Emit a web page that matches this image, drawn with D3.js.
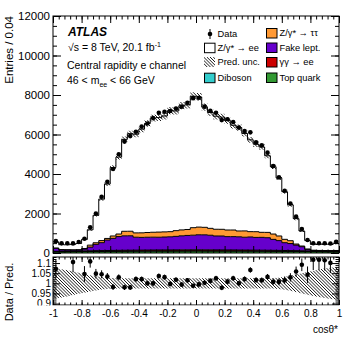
<!DOCTYPE html>
<meta charset="utf-8">
<style>
body { margin: 0; background: #fff; overflow: hidden; }
svg { display: block; font-family: "Liberation Sans", Arial, sans-serif; }
.axis path { display: none; }
.axis line { stroke: #000; stroke-width: 1px; }
.axis text { fill: #000; font-family: "Liberation Sans", Arial, sans-serif; }
.leg text { font-size: 9.3px; }
</style>
<svg width="357" height="344"></svg>
<script src="https://cdn.jsdelivr.net/npm/d3@7"></script>
<script>

// 50 bins of cos(theta*), width 0.04
var dataCounts = [600,490,490,485,555,725,1300,2000,2850,3610,4250,5000,5640,5920,6140,6400,6560,6830,7100,7150,
                  7190,7320,7410,7610,7840,7860,7410,7200,7100,6730,6770,6630,6350,6180,6110,5600,5450,5080,4400,3830,
                  3150,2510,1840,1215,660,490,490,490,480,570];
var zee = [310,250,255,280,320,465,775,1390,2100,2755,3465,3895,4655,4940,4995,5250,5520,5780,5795,5870,
           6130,6060,6290,6310,6655,6590,6090,5865,5725,5680,5550,5305,5235,4935,4650,4430,4320,3880,3405,2940,
           2410,1815,1285,760,435,300,310,315,315,360];
var ztautau = [12,10,10,10,10,30,100,80,105,80,120,130,230,230,220,230,240,250,260,260,
               260,290,300,300,380,390,380,350,340,340,335,335,295,320,270,290,255,270,270,235,
               170,145,55,35,10,10,10,10,10,10];
var fakes = [150,70,60,50,50,90,185,320,400,530,610,695,730,730,655,645,650,650,645,655,
             665,685,710,730,740,760,760,740,705,705,675,675,670,650,665,645,650,635,555,495,
             395,355,280,205,80,25,20,20,20,30];
var photonInduced = [25,26,27,28,30,32,34,36,38,40,42,44,45,46,48,48,50,50,52,52,
                     52,54,54,55,55,55,55,54,54,52,52,52,50,50,48,48,46,45,44,42,
                     40,38,36,34,32,30,28,27,26,25];
var diboson = [3,3,3,3,4,4,4,5,5,5,5,6,6,6,6,6,6,7,7,7,7,7,7,7,7,7,7,7,7,7,7,7,6,6,6,6,6,6,5,5,5,5,5,4,4,4,3,3,3,3];
var topQuark = [60,62,65,68,70,72,75,78,80,82,85,86,88,90,90,92,92,94,95,95,96,96,98,98,100,100,98,98,96,96,
                95,95,94,92,92,90,90,88,86,85,82,80,78,75,72,70,68,65,62,60];
// relative prediction uncertainty per bin
var predUnc = [0.075,0.07,0.065,0.058,0.052,0.046,0.04,0.035,0.031,0.028,0.026,0.025,0.025,0.025,0.025,0.025,0.025,0.025,0.025,0.025,
               0.025,0.025,0.025,0.025,0.025,0.025,0.025,0.025,0.025,0.025,0.025,0.025,0.025,0.025,0.025,0.025,0.025,0.025,0.026,0.028,
               0.032,0.037,0.043,0.05,0.056,0.062,0.068,0.073,0.077,0.08];

var xTicks = [-1,-0.8,-0.6,-0.4,-0.2,0,0.2,0.4,0.6,0.8,1];
var yTicks = [0,2000,4000,6000,8000,10000,12000];
var rTicks = [0.9,0.95,1,1.05,1.1];

var keys = ["top","dib","gg","fake","ztt","zee"];
var colors = {top:"#339933", dib:"#33cccc", gg:"#cc0000", fake:"#6600cc", ztt:"#ff9933", zee:"#ffffff"};

var nb = dataCounts.length;
var edges = d3.range(nb + 1).map(function(i) { return -1 + 0.04 * i; });
var rows = d3.range(nb).map(function(i) {
  return {top: topQuark[i], dib: diboson[i], gg: photonInduced[i], fake: fakes[i], ztt: ztautau[i], zee: zee[i]};
});
var pred = rows.map(function(r) { return keys.reduce(function(s, k) { return s + r[k]; }, 0); });

var svg = d3.select("svg");
var W = 357, H = 344;
var L = 53, R = 339, T = 16, B = 253, RT = 257, RB = 305;

var x = d3.scaleLinear().domain([-1, 1]).range([L, R]);
var y = d3.scaleLinear().domain([0, 12000]).range([B, T]);
var yr = d3.scaleLinear().domain([0.893, 1.13]).range([RB, RT]);

var defs = svg.append("defs");
defs.append("clipPath").attr("id", "clipMain").append("rect")
    .attr("x", L).attr("y", T).attr("width", R - L).attr("height", B - T);
defs.append("clipPath").attr("id", "clipRatio").append("rect")
    .attr("x", L).attr("y", RT).attr("width", R - L).attr("height", RB - RT);

// hatch a shape with "\" lines, clipped to the shape
var hatchN = 0;
function hatch(parent, d, x0, y0, w, h) {
  var id = "hc" + (hatchN++);
  defs.append("clipPath").attr("id", id).append("path").attr("d", d);
  var g = parent.append("g").attr("clip-path", "url(#" + id + ")");
  for (var k = -h; k < w; k += 3.2) {
    g.append("line").attr("x1", x0 + k).attr("y1", y0).attr("x2", x0 + k + h).attr("y2", y0 + h)
      .attr("stroke", "#000").attr("stroke-width", 0.9);
  }
}

function stepPts(f0, f1) {
  var pts = [];
  for (var i = 0; i < nb; i++) {
    pts.push({x: edges[i], y0: f0(i), y1: f1(i)});
    pts.push({x: edges[i + 1], y0: f0(i), y1: f1(i)});
  }
  return pts;
}

// ---- main panel
var gm = svg.append("g").attr("clip-path", "url(#clipMain)");
var stacked = d3.stack().keys(keys)(rows);
var area = d3.area().x(function(d) { return x(d.x); })
    .y0(function(d) { return y(d.y0); }).y1(function(d) { return y(d.y1); });
var outline = d3.line().x(function(d) { return x(d.x); }).y(function(d) { return y(d.y1); });

stacked.forEach(function(layer) {
  var pts = stepPts(function(i) { return layer[i][0]; }, function(i) { return layer[i][1]; });
  gm.append("path").attr("d", area(pts)).attr("fill", colors[layer.key]);
});
stacked.forEach(function(layer) {
  var pts = stepPts(function(i) { return layer[i][0]; }, function(i) { return layer[i][1]; });
  gm.append("path").attr("d", outline(pts)).attr("fill", "none")
    .attr("stroke", "#000").attr("stroke-width", 1);
});

var bandPts = stepPts(function(i) { return pred[i] * (1 - predUnc[i]); }, function(i) { return pred[i] * (1 + predUnc[i]); });
hatch(gm, area(bandPts), L, T, R - L, B - T);

var centers = d3.range(nb).map(function(i) { return (edges[i] + edges[i + 1]) / 2; });
gm.selectAll(".eb").data(d3.range(nb)).enter().append("line")
  .attr("x1", function(i) { return x(centers[i]); }).attr("x2", function(i) { return x(centers[i]); })
  .attr("y1", function(i) { return y(dataCounts[i] - Math.sqrt(dataCounts[i])); })
  .attr("y2", function(i) { return y(dataCounts[i] + Math.sqrt(dataCounts[i])); })
  .attr("stroke", "#000");
gm.selectAll(".pt").data(d3.range(nb)).enter().append("circle")
  .attr("cx", function(i) { return x(centers[i]); })
  .attr("cy", function(i) { return y(dataCounts[i]); })
  .attr("r", 2.3).attr("fill", "#000");

// ---- ratio panel
var gr = svg.append("g").attr("clip-path", "url(#clipRatio)");
var rband = [{x: -1, u: predUnc[0]}].concat(centers.map(function(c, i) { return {x: c, u: predUnc[i]}; }))
    .concat([{x: 1, u: predUnc[nb - 1]}]);
var rArea = d3.area().x(function(d) { return x(d.x); })
    .y0(function(d) { return yr(1 - d.u); }).y1(function(d) { return yr(1 + d.u); });
hatch(gr, rArea(rband), L, RT, R - L, RB - RT);

var ratio = dataCounts.map(function(v, i) { return v / pred[i]; });
var inRange = d3.range(nb).filter(function(i) { return ratio[i] > 0.893 && ratio[i] < 1.13; });
gr.selectAll(".reb").data(inRange).enter().append("line")
  .attr("x1", function(i) { return x(centers[i]); }).attr("x2", function(i) { return x(centers[i]); })
  .attr("y1", function(i) { return yr(Math.max(0.893, ratio[i] - Math.sqrt(dataCounts[i]) / pred[i])); })
  .attr("y2", function(i) { return yr(Math.min(1.13, ratio[i] + Math.sqrt(dataCounts[i]) / pred[i])); })
  .attr("stroke", "#000");
gr.selectAll(".rpt").data(inRange).enter().append("circle")
  .attr("cx", function(i) { return x(centers[i]); })
  .attr("cy", function(i) { return yr(ratio[i]); })
  .attr("r", 2.3).attr("fill", "#000");

// ---- axes
var xMinor = edges;
var yMinor = d3.range(0, 12001, 500);
var rMinor = d3.range(90, 114).map(function(v) { return v / 100; });
var fmtX = function(d) { return String(+d.toFixed(1)); };

function ax(gen, tr, fs) {
  var g = svg.append("g").attr("class", "axis").attr("transform", tr).call(gen);
  g.selectAll("text").style("font-size", fs || "11px");
  return g;
}
var nof = function() { return ""; };
// main
ax(d3.axisBottom(x).tickValues(xMinor).tickSize(-3.5).tickFormat(nof), "translate(0," + B + ")");
ax(d3.axisBottom(x).tickValues(xTicks).tickSize(-7).tickFormat(nof), "translate(0," + B + ")");
ax(d3.axisTop(x).tickValues(xMinor).tickSize(-3.5).tickFormat(nof), "translate(0," + T + ")");
ax(d3.axisTop(x).tickValues(xTicks).tickSize(-7).tickFormat(nof), "translate(0," + T + ")");
ax(d3.axisLeft(y).tickValues(yMinor).tickSize(-4).tickFormat(nof), "translate(" + L + ",0)");
ax(d3.axisLeft(y).tickValues(yTicks).tickSize(-8).tickPadding(3).tickFormat(d3.format("d")), "translate(" + L + ",0)", "11.5px");
ax(d3.axisRight(y).tickValues(yMinor).tickSize(-4).tickFormat(nof), "translate(" + R + ",0)");
ax(d3.axisRight(y).tickValues(yTicks).tickSize(-8).tickFormat(nof), "translate(" + R + ",0)");
// ratio
ax(d3.axisBottom(x).tickValues(xMinor).tickSize(-2.5).tickFormat(nof), "translate(0," + RB + ")");
ax(d3.axisBottom(x).tickValues(xTicks).tickSize(-5).tickFormat(nof), "translate(0," + RB + ")");
ax(d3.axisTop(x).tickValues(xMinor).tickSize(-2.5).tickFormat(nof), "translate(0," + RT + ")");
ax(d3.axisTop(x).tickValues(xTicks).tickSize(-5).tickFormat(nof), "translate(0," + RT + ")");
ax(d3.axisLeft(yr).tickValues(rMinor).tickSize(-3.5).tickFormat(nof), "translate(" + L + ",0)");
ax(d3.axisLeft(yr).tickValues(rTicks).tickSize(-7).tickPadding(2).tickFormat(function(d) { return String(d); }), "translate(" + L + ",0)", "10px");
ax(d3.axisRight(yr).tickValues(rMinor).tickSize(-3.5).tickFormat(nof), "translate(" + R + ",0)");
ax(d3.axisRight(yr).tickValues(rTicks).tickSize(-7).tickFormat(nof), "translate(" + R + ",0)");

svg.append("rect").attr("x", L).attr("y", T).attr("width", R - L).attr("height", B - T)
  .attr("fill", "none").attr("stroke", "#000");
svg.append("rect").attr("x", L).attr("y", RT).attr("width", R - L).attr("height", RB - RT)
  .attr("fill", "none").attr("stroke", "#000");

// y axis title of the main pad
svg.append("text").attr("transform", "translate(13," + T + ") rotate(-90)")
  .attr("text-anchor", "end").style("font-size", "11.5px").text("Entries / 0.04");

// annotations
svg.append("text").attr("x", 68).attr("y", 36).style("font-size", "12px")
  .style("font-weight", "bold").style("font-style", "italic").text("ATLAS");
var t2 = svg.append("text").attr("x", 68).attr("y", 51).style("font-size", "10.5px");
t2.append("tspan").text("√s = 8 TeV, 20.1 fb");
t2.append("tspan").attr("dy", -4).style("font-size", "7px").text("-1");
svg.append("text").attr("x", 67).attr("y", 69).style("font-size", "10.5px").text("Central rapidity e channel");
var t4 = svg.append("text").attr("x", 67).attr("y", 84).style("font-size", "10.5px");
t4.append("tspan").text("46 < m");
t4.append("tspan").attr("dy", 2.5).style("font-size", "7px").text("ee");
t4.append("tspan").attr("dy", -2.5).text(" < 66 GeV");

// legend
var leg = svg.append("g").attr("class", "leg");
var legItems = [
  {label: "Data", type: "data", x: 204, y: 34},
  {label: "Z/γ* → ee", type: "box", fill: "#fff", x: 204, y: 47.7},
  {label: "Pred. unc.", type: "hatch", x: 204, y: 62},
  {label: "Diboson", type: "box", fill: colors.dib, x: 204, y: 77.7},
  {label: "Z/γ* → ττ", type: "box", fill: colors.ztt, x: 266, y: 33},
  {label: "Fake lept.", type: "box", fill: colors.fake, x: 266, y: 47.5},
  {label: "γγ → ee", type: "box", fill: colors.gg, x: 266, y: 62},
  {label: "Top quark", type: "box", fill: colors.top, x: 266, y: 77.5}
];
legItems.forEach(function(d) {
  if (d.type === "data") {
    leg.append("line").attr("x1", d.x + 6).attr("x2", d.x + 6).attr("y1", d.y - 5).attr("y2", d.y + 5).attr("stroke", "#000");
    leg.append("circle").attr("cx", d.x + 6).attr("cy", d.y).attr("r", 2.3).attr("fill", "#000");
  } else if (d.type === "hatch") {
    var bx = d.x, by = d.y - 5;
    hatch(leg, "M" + bx + "," + by + "h11v10h-11Z", bx, by, 11, 10);
  } else {
    leg.append("rect").attr("x", d.x + 0.5).attr("y", d.y - 4.5).attr("width", 10.5).attr("height", 9.5)
      .attr("fill", d.fill).attr("stroke", "#000");
  }
  leg.append("text").attr("x", d.x + 13.5).attr("y", d.y + 3.3).text(d.label);
});

// clean strip under the ratio pad, then its labels on top
svg.append("rect").attr("x", 0).attr("y", RB + 0.5).attr("width", W).attr("height", H - RB)
  .attr("fill", "#fff");
var xl = svg.append("g").attr("class", "axis").attr("transform", "translate(0," + RB + ")")
  .call(d3.axisBottom(x).tickValues(xTicks).tickSize(0).tickPadding(5).tickFormat(fmtX));
xl.selectAll("text").style("font-size", "10px");
svg.append("text").attr("transform", "translate(13,292) rotate(-90)")
  .attr("text-anchor", "middle").style("font-size", "11px").text("Data / Pred.");
svg.append("text").attr("x", R - 1).attr("y", 333).attr("text-anchor", "end")
  .style("font-size", "10px").text("cosθ*");

</script>
